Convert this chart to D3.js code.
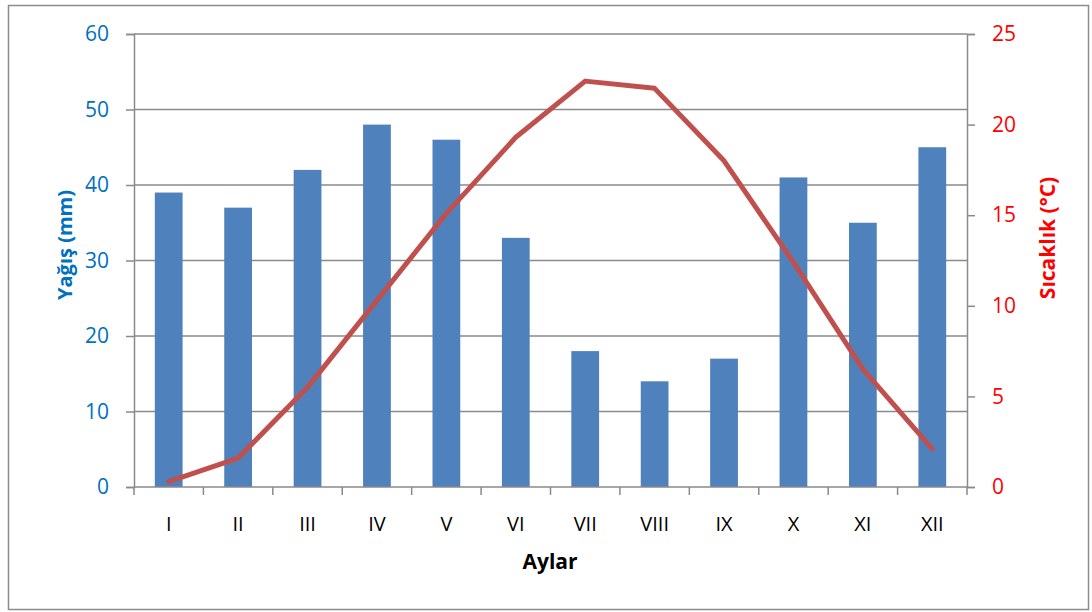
<!DOCTYPE html>
<html><head><meta charset="utf-8">
<script src="https://cdn.jsdelivr.net/npm/d3@7"></script>
<style>body{margin:0;background:#fff;}svg{display:block;font-family:"Open Sans",sans-serif;}</style>
</head><body><svg id="c" width="1092" height="612"></svg>
<script>
const months = ["I","II","III","IV","V","VI","VII","VIII","IX","X","XI","XII"];
const rainfall = [39,37,42,48,46,33,18,14,17,41,35,45];
const temperature = [0.3,1.6,5.5,10.3,15.1,19.3,22.4,22.0,18.0,12.4,6.5,2.1];
const rainTicks = [0,10,20,30,40,50,60];
const tempTicks = [0,5,10,15,20,25];

const svg = d3.select("#c");
const L = 134, R = 967, T = 34, B = 487;
svg.append("rect").attr("x",8.5).attr("y",5.5).attr("width",1080).attr("height",604)
  .attr("fill","#fff").attr("stroke","#8c8c8c").attr("stroke-width",1.5);

const xb = d3.scaleBand().domain(months).range([L,R]);
const yL = d3.scaleLinear().domain([0,60]).range([B,T]);
const yR = d3.scaleLinear().domain([0,25]).range([B,T]);
const grid = "#8a8a8a";

// gridlines
svg.append("g").selectAll("line").data(rainTicks.filter(d=>d>0)).join("line")
  .attr("x1",L).attr("x2",R).attr("y1",d=>yL(d)).attr("y2",d=>yL(d))
  .attr("stroke",grid).attr("stroke-width",1.5);

// bars
const bw = xb.bandwidth()/2.5;
svg.append("g").selectAll("rect").data(rainfall).join("rect")
  .attr("x",(d,i)=>xb(months[i])+xb.bandwidth()/2-bw/2)
  .attr("width",bw)
  .attr("y",d=>yL(d)).attr("height",d=>B-yL(d))
  .attr("fill","#4F81BD");

// left axis
const gL = svg.append("g").attr("transform",`translate(${L},0)`)
  .call(d3.axisLeft(yL).tickValues(rainTicks).tickSize(8).tickPadding(17));
gL.select(".domain").attr("stroke",grid).attr("stroke-width",1.5);
gL.selectAll(".tick line").attr("stroke",grid).attr("stroke-width",1.5);
gL.selectAll("text").attr("fill","#0070C0").attr("font-size",21).attr("font-family","Open Sans");

// right axis
const gR = svg.append("g").attr("transform",`translate(${R},0)`)
  .call(d3.axisRight(yR).tickValues(tempTicks).tickSize(8).tickPadding(17));
gR.select(".domain").attr("stroke",grid).attr("stroke-width",1.5);
gR.selectAll(".tick line").attr("stroke",grid).attr("stroke-width",1.5);
gR.selectAll("text").attr("fill","#FF0000").attr("font-size",21).attr("font-family","Open Sans");

// bottom axis
svg.append("line").attr("x1",L).attr("x2",R).attr("y1",B).attr("y2",B).attr("stroke",grid).attr("stroke-width",1.5);
svg.append("g").selectAll("line").data(d3.range(13)).join("line")
  .attr("x1",i=>L+i*xb.step()).attr("x2",i=>L+i*xb.step())
  .attr("y1",B).attr("y2",B+8).attr("stroke",grid).attr("stroke-width",1.5);
svg.append("g").selectAll("text").data(months).join("text")
  .attr("x",d=>xb(d)+xb.bandwidth()/2).attr("y",531)
  .attr("text-anchor","middle").attr("font-size",20).attr("fill","#000").text(d=>d);

// temperature line
const line = d3.line().x((d,i)=>xb(months[i])+xb.bandwidth()/2).y(d=>yR(d));
svg.append("path").datum(temperature).attr("d",line)
  .attr("fill","none").attr("stroke","#C0504D").attr("stroke-width",5)
  .attr("stroke-linejoin","round").attr("stroke-linecap","round");

// titles
svg.append("text").attr("transform","translate(72,245) rotate(-90)")
  .attr("text-anchor","middle").attr("font-size",20).attr("font-weight","bold")
  .attr("fill","#0070C0").text("Yağış (mm)");
svg.append("text").attr("transform","translate(1055,238) rotate(-90)")
  .attr("text-anchor","middle").attr("font-size",21).attr("font-weight","bold")
  .attr("fill","#FF0000").text("Sıcaklık (°C)");
svg.append("text").attr("x",550).attr("y",569)
  .attr("text-anchor","middle").attr("font-size",21).attr("font-weight","bold")
  .attr("fill","#000").text("Aylar");
</script></body></html>
